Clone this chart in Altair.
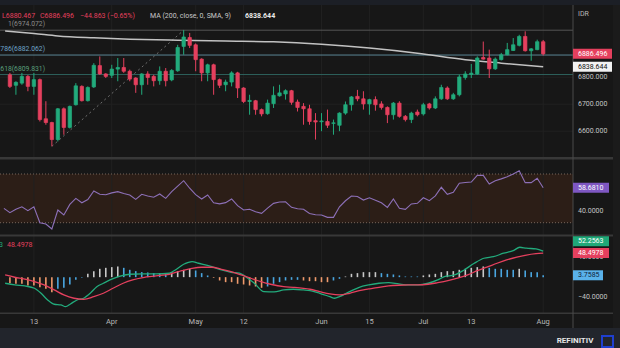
import altair as alt
import pandas as pd

W, H = 620, 348
BG = "#171717"
GREEN = "#22ab7c"
RED = "#e5405e"

# ---------------- data ----------------
opens = [6809, 6770, 6778, 6803, 6766, 6791, 6646, 6632, 6569, 6683,
         6614, 6698, 6766, 6713, 6764, 6843, 6812, 6807, 6830, 6836,
         6822, 6797, 6772, 6812, 6803, 6787, 6822, 6790, 6824, 6914,
         6947, 6920, 6867, 6816, 6846, 6791, 6772, 6782, 6816, 6760,
         6710, 6713, 6680, 6665, 6702, 6731, 6738, 6750, 6708, 6692,
         6683, 6639, 6635, 6636, 6629, 6622, 6667, 6698, 6729, 6720,
         6701, 6717, 6701, 6688, 6661, 6704, 6655, 6643, 6671, 6664,
         6701, 6686, 6720, 6760, 6720, 6735, 6799, 6810, 6812, 6873,
         6871, 6831, 6865, 6883, 6899, 6918, 6951, 6898, 6902, 6931.36]
highs = [6816, 6785, 6816, 6808, 6816, 6795, 6711, 6635, 6686, 6688,
         6695, 6778, 6770, 6766, 6852, 6877, 6815, 6846, 6871, 6871,
         6828, 6800, 6815, 6822, 6809, 6840, 6834, 6830, 6920, 6974.072,
         6964, 6925, 6870, 6850, 6850, 6795, 6791, 6822, 6820, 6763,
         6735, 6716, 6684, 6717, 6766, 6772, 6755, 6753, 6717, 6704,
         6698, 6667, 6667, 6680, 6643, 6670, 6710, 6730, 6753, 6748,
         6720, 6729, 6711, 6692, 6708, 6711, 6660, 6672, 6680, 6705,
         6705, 6729, 6772, 6766, 6742, 6809, 6822, 6849, 6877, 6932,
         6902, 6873, 6890, 6927, 6945, 6957, 6970, 6908, 6939, 6938]
lows = [6760, 6735, 6772, 6748, 6735, 6636, 6624, 6544, 6562, 6587,
        6610, 6695, 6710, 6710, 6760, 6809, 6797, 6797, 6785, 6816,
        6785, 6742, 6735, 6772, 6766, 6772, 6766, 6785, 6820, 6883,
        6908, 6822, 6785, 6785, 6735, 6760, 6748, 6766, 6723, 6704,
        6661, 6661, 6655, 6661, 6686, 6728, 6717, 6698, 6673, 6624,
        6624, 6569, 6600, 6612, 6587, 6600, 6661, 6676, 6711, 6680,
        6661, 6676, 6680, 6630, 6643, 6650, 6636, 6630, 6655, 6658,
        6680, 6682, 6716, 6716, 6716, 6729, 6791, 6797, 6809, 6865,
        6797, 6827, 6862, 6881, 6897, 6914, 6895, 6861, 6900, 6880.467]
closes = [6766, 6781, 6803, 6766, 6791, 6643, 6632, 6569, 6683, 6614,
          6692, 6768, 6713, 6762, 6844, 6812, 6803, 6830, 6836, 6822,
          6793, 6772, 6812, 6799, 6787, 6822, 6787, 6825, 6910, 6949,
          6918, 6865, 6816, 6846, 6791, 6770, 6782, 6816, 6760, 6710,
          6714, 6680, 6664, 6704, 6733, 6742, 6750, 6707, 6688, 6683,
          6636, 6634, 6638, 6622, 6631, 6667, 6698, 6727, 6720, 6701,
          6717, 6698, 6688, 6661, 6704, 6655, 6643, 6667, 6661, 6698,
          6686, 6720, 6762, 6720, 6735, 6801, 6812, 6815, 6871, 6867,
          6831, 6867, 6883, 6902, 6920, 6951, 6898, 6905, 6931.36, 6886.496]

ma_idx = [-0.8, 4, 8, 14, 20, 28, 36, 44, 52, 60, 68, 76, 82, 89]
ma_val = [6971, 6962, 6953, 6946, 6941, 6937, 6934, 6931, 6922, 6908,
          6889, 6865, 6852, 6838.644]

fib_names = ["1", "0.786", "0.618"]
fib_levels = [6974.072, 6882.062, 6809.831]
fib_line_colors = ["#555555", "#5a8594", "#2e625c"]
fib_text_colors = ["#8a8a8a", "#6ea4c9", "#5aa07c"]
fib_trend_idx = [7, 29]
fib_trend_val = [6544.0, 6974.072]

rsi_start = 41.8
rsi = [38.2, 41.0, 43.1, 39.9, 43.1, 30.0, 28.9, 24.8, 40.4, 36.3,
       45.0, 50.0, 46.4, 49.0, 56.0, 53.3, 53.0, 54.5, 55.5, 54.0,
       52.8, 49.2, 53.3, 52.0, 50.9, 53.6, 50.0, 55.5, 60.0, 64.5,
       58.3, 53.0, 49.5, 52.8, 46.4, 45.5, 46.5, 49.5, 44.0, 40.4,
       41.0, 39.0, 37.7, 42.0, 45.9, 47.0, 47.2, 42.6, 41.5, 41.0,
       37.6, 36.5, 36.3, 34.4, 34.4, 43.1, 48.0, 51.9, 51.5, 48.6,
       50.5, 48.5, 46.4, 42.6, 49.5, 41.8, 41.0, 45.4, 45.9, 50.5,
       48.1, 52.0, 59.1, 53.3, 55.0, 62.4, 63.0, 63.4, 68.9, 68.9,
       61.8, 64.5, 66.0, 67.8, 70.0, 72.7, 62.9, 62.9, 66.5, 58.681]

macd_idx = [-0.8, 0.8, 2.5, 4.1, 5.2, 6.3, 7.4, 8.5, 9.3, 10.1, 11.2, 12.3, 13.4,
            14.5, 15.6, 16.7, 18.1, 20, 22.2, 24.4, 26.6, 27.6, 29, 30.4, 31.5,
            32.6, 33.7, 35.3, 36.9, 38.3, 39.7, 40.8, 42.4, 44.1, 45.7, 47.3, 49,
            50.1, 51.7, 53.4, 54.2, 55, 56.7, 58.3, 59.9, 61.6, 63.2, 64.9, 66.5,
            68.1, 69.8, 71.4, 72.5, 74.2, 75.8, 77.5, 79.1, 80.7, 82.4, 84, 85.1,
            86.2, 87.8, 89]
macd_val = [-12.3, -15.7, -17.7, -22.4, -32.5, -46.0, -54.6, -55.9, -59.5, -54.0,
            -46.0, -42.5, -32.5, -19.2, -12.3, -5.6, 1.0, 5.8, 6.5, 6.5, 7.9, 14.5,
            26.0, 31.3, 28.0, 24.6, 21.2, 14.5, 9.9, 7.9, -2.2, -12.3, -29.2, -29.8,
            -25.8, -24.4, -25.8, -27.2, -32.5, -39.3, -42.5, -39.3, -29.2, -20.4,
            -15.7, -12.3, -11.1, -13.7, -15.7, -15.7, -12.3, -5.6, 1.0, 4.4, 14.5,
            28.0, 38.1, 41.3, 48.2, 53.4, 60.3, 58.3, 56.9, 52.2563]
sig_idx = [-0.8, 0.8, 2.5, 4.1, 5.7, 7.4, 9, 10.7, 12.3, 14, 15.6, 17.2, 18.9,
           20.5, 22.2, 24.4, 26.6, 28.7, 30.4, 32, 33.7, 35.3, 36.9, 38.6, 40.2,
           41.9, 43.5, 45.7, 47.3, 50.1, 51.7, 53.4, 55, 56.7, 58.3, 59.9, 61.6,
           63.2, 64.9, 66.5, 68.1, 69.8, 71.4, 73.1, 74.7, 76.4, 78, 79.6, 81.3,
           82.9, 84.6, 86.2, 87.8, 89]
sig_val = [4.4, -0.2, -4.2, -9.1, -15.7, -25.8, -35.9, -42.5, -44.6, -39.3,
           -32.5, -22.4, -12.3, -5.6, -1.0, 2.4, 5.8, 13.1, 17.9, 20.0,
           20.0, 15.9, 11.1, 4.4, -2.2, -9.1, -14.3, -19.2, -20.4, -24.4,
           -29.2, -33.9, -35.9, -32.5, -27.2, -23.8, -20.4, -17.7, -16.3, -15.7,
           -15.7, -14.3, -11.1, -7.1, -2.2, 4.4, 13.1, 20.0, 28.0, 34.7,
           40.5, 44.5, 47.2, 48.4978]
hist = [-12.1, -13.4, -13.4, -16.8, -16.8, -20.2, -23.5, -30.2, -23.5, -21.5,
        -14.8, -5.4, -1.3, 6.7, 12.1, 16.8, 18.8, 20.2, 21.5, 18.8,
        14.8, 12.1, 10.1, 9.4, 8.1, 8.1, 8.1, 10.1, 12.1, 14.8,
        16.8, 13.4, 8.1, 3.4, -1.3, -6.7, -10.1, -10.1, -13.4, -14.8,
        -16.8, -18.8, -21.5, -18.8, -13.4, -10.1, -6.7, -5.4, -5.4, -6.7,
        -8.1, -8.1, -10.1, -10.1, -6.7, -3.4, 1.3, 6.7, 8.1, 10.1,
        10.1, 10.1, 8.1, 6.7, 5.4, 3.4, 1.3, 1.3, 1.3, 3.4,
        5.4, 6.7, 10.1, 12.1, 12.1, 14.8, 16.8, 18.8, 20.2, 21.5,
        18.8, 16.8, 16.8, 14.8, 14.8, 16.8, 13.4, 10.1, 10.1, 3.7585]

date_labels = ["13", "Apr", "May", "12", "Jun", "15", "Jul", "13", "Aug"]
date_idx = [4, 17, 31, 39, 52, 60, 69, 77, 89]
price_ticks = [6800, 6700, 6600]
rsi_ticks = [40]
macd_ticks = [40, -40]

# ---------------- scales ----------------
def pix_dom(v0, y0, v1, y1):
    s = (y1 - y0) / (v1 - v0)
    return [v0 + (H - y0) / s, v0 - y0 / s]

PD = pix_dom(6800, 77.2, 6600, 131.2)
RD = pix_dom(70, 174.0, 30, 222.7)
MD = pix_dom(40, 257.3, -40, 297.0)
XS = alt.Scale(domain=[-5 / 6.09, 615 / 6.09], nice=False, zero=False)
AX = 573  # price axis x


def xq(f):
    return alt.X(f"{f}:Q", scale=XS, axis=None)


def yq(f, d):
    return alt.Y(f"{f}:Q", scale=alt.Scale(domain=d, nice=False, zero=False), axis=None)


ONE = pd.DataFrame({"k": [0]})
FONT = "Roboto"


def box(x1, x2, y1, y2, fill, **kw):
    return alt.Chart(ONE).mark_rect(color=fill, **kw).encode(
        x=alt.value(x1), x2=alt.value(x2), y=alt.value(y1), y2=alt.value(y2))


def txt(s, x, y, color, size=7, align="left", weight="normal"):
    return alt.Chart(ONE).mark_text(text=s, color=color, fontSize=size, align=align,
                                    baseline="middle", fontWeight=weight, font=FONT).encode(
        x=alt.value(x), y=alt.value(y))


def tag(value, dom, fill, tcolor, x2=609, dy=0):
    d = pd.DataFrame({"v": [value], "s": [f"{value:.4f}" if dom is not PD else f"{value:.3f}"]})
    r = alt.Chart(d).mark_rule(color=fill, strokeWidth=10, yOffset=dy).encode(
        x=alt.value(AX), x2=alt.value(x2), y=yq("v", dom))
    t = alt.Chart(d).mark_text(color=tcolor, fontSize=7, align="left", baseline="middle",
                               dy=dy, font=FONT).encode(
        x=alt.value(AX + 5), y=yq("v", dom), text="s:N")
    return [r, t]


layers = []

# frames
layers.append(box(0, W, 0, 5, "#1c1f26"))
layers.append(box(0, W, 328, H, "#22252c"))
layers.append(box(613, W, 5, 328, "#1b1b1b"))

# RSI band
band = pd.DataFrame({"lo": [30], "hi": [70]})
layers.append(alt.Chart(band).mark_rect(color="#2c1e17").encode(
    x=alt.value(0), x2=alt.value(AX), y=yq("lo", RD), y2="hi:Q"))

# grid
gd = pd.DataFrame({"i": date_idx, "lab": date_labels})
layers.append(alt.Chart(gd).mark_rule(color="#212121", strokeWidth=1).encode(
    x=xq("i"), y=alt.value(5), y2=alt.value(313)))
pt = pd.DataFrame({"p": price_ticks, "s": [f"{p:.3f}" for p in price_ticks]})
layers.append(alt.Chart(pt).mark_rule(color="#212121", strokeWidth=1).encode(
    x=alt.value(0), x2=alt.value(AX), y=yq("p", PD)))

# RSI dotted bounds
layers.append(alt.Chart(band).mark_rule(color="#76665c", strokeDash=[1, 2]).encode(
    x=alt.value(0), x2=alt.value(AX), y=yq("lo", RD)))
layers.append(alt.Chart(band).mark_rule(color="#76665c", strokeDash=[1, 2]).encode(
    x=alt.value(0), x2=alt.value(AX), y=yq("hi", RD)))

# fib levels
fib = pd.DataFrame({"v": fib_levels, "lc": fib_line_colors, "tc": fib_text_colors,
                    "s": [f"{n}({v:.3f})" for n, v in zip(fib_names, fib_levels)]})
layers.append(alt.Chart(fib).mark_rule(strokeWidth=1).encode(
    x=alt.value(0), x2=alt.value(AX), y=yq("v", PD), color=alt.Color("lc:N", scale=None)))
layers.append(alt.Chart(fib).mark_text(fontSize=6.8, align="right", baseline="middle", dy=-6,
                                       font=FONT).encode(
    x=alt.value(45), y=yq("v", PD), text="s:N", color=alt.Color("tc:N", scale=None)))
tr = pd.DataFrame({"i": fib_trend_idx, "v": fib_trend_val})
layers.append(alt.Chart(tr).mark_line(color="#707070", strokeDash=[2, 3], strokeWidth=1).encode(
    x=xq("i"), y=yq("v", PD)))

# MA 200
ma = pd.DataFrame({"i": ma_idx, "v": ma_val})
layers.append(alt.Chart(ma).mark_line(color="#c2c2c2", strokeWidth=1.5, interpolate="monotone",
                                      clip=True).encode(x=xq("i"), y=yq("v", PD)))

# candles
cd = pd.DataFrame({"i": list(range(len(opens))), "o": opens, "h": highs, "l": lows, "c": closes})
cd["col"] = [GREEN if c >= o else RED for o, c in zip(opens, closes)]
layers.append(alt.Chart(cd).mark_rule(strokeWidth=1).encode(
    x=xq("i"), y=yq("l", PD), y2="h:Q", color=alt.Color("col:N", scale=None)))
layers.append(alt.Chart(cd).mark_bar(size=3.4, strokeWidth=0.7).encode(
    x=xq("i"), y=yq("o", PD), y2="c:Q", color=alt.Color("col:N", scale=None),
    stroke=alt.Stroke("col:N", scale=None)))

# RSI
rd = pd.DataFrame({"i": [-1] + list(range(len(rsi))), "v": [rsi_start] + rsi})
layers.append(alt.Chart(rd).mark_line(color="#8d70b8", strokeWidth=1.1, clip=True).encode(
    x=xq("i"), y=yq("v", RD)))

# MACD histogram
hcol = []
prev = None
for h in hist:
    if prev is None:
        c = "#ef9a6c" if h < 0 else "#c8c8c8"
    elif h >= 0:
        c = "#c8c8c8" if h > prev else ("#4aa6e0" if h < prev else hcol[-1])
    else:
        c = "#ef9a6c" if h < prev else ("#4aa6e0" if h > prev else hcol[-1])
    hcol.append(c)
    prev = h
hd = pd.DataFrame({"i": list(range(len(hist))), "h": hist, "z": [0] * len(hist), "col": hcol})
layers.append(alt.Chart(hd).mark_rule(strokeWidth=1.6).encode(
    x=xq("i"), y=yq("z", MD), y2="h:Q", color=alt.Color("col:N", scale=None)))
md = pd.DataFrame({"i": macd_idx, "v": macd_val})
layers.append(alt.Chart(md).mark_line(color="#22ab7c", strokeWidth=1.3, interpolate="monotone",
                                      clip=True).encode(x=xq("i"), y=yq("v", MD)))
sd = pd.DataFrame({"i": sig_idx, "v": sig_val})
layers.append(alt.Chart(sd).mark_line(color="#e5405e", strokeWidth=1.3, interpolate="monotone",
                                      clip=True).encode(x=xq("i"), y=yq("v", MD)))

# separators
layers.append(box(0, 613, 157, 159.5, "#383838"))
layers.append(box(0, 613, 234.5, 236.5, "#383838"))
layers.append(box(0, 613, 312.5, 314, "#383838"))
layers.append(box(AX - 0.5, AX + 0.5, 5, 328, "#4a4a4a"))

# axis labels
layers.append(alt.Chart(pt).mark_text(color="#c4c4c4", fontSize=7, align="left", baseline="middle",
                                      font=FONT).encode(x=alt.value(AX + 5), y=yq("p", PD), text="s:N"))
rt = pd.DataFrame({"v": rsi_ticks, "s": [f"{v:.4f}" for v in rsi_ticks]})
layers.append(alt.Chart(rt).mark_text(color="#c4c4c4", fontSize=7, align="left", baseline="middle",
                                      font=FONT).encode(x=alt.value(AX + 5), y=yq("v", RD), text="s:N"))
mt = pd.DataFrame({"v": macd_ticks, "s": [f"{v:.4f}".replace("-", "\u2212") for v in macd_ticks]})
layers.append(alt.Chart(mt).mark_text(color="#c4c4c4", fontSize=7, align="left", baseline="middle",
                                      font=FONT).encode(x=alt.value(AX + 5), y=yq("v", MD), text="s:N"))
layers.append(alt.Chart(gd).mark_text(color="#b8b8b8", fontSize=7.5, align="center", baseline="middle",
                                      font=FONT).encode(x=xq("i"), y=alt.value(322), text="lab:N"))

# tags
layers += tag(closes[-1], PD, RED, "#ffffff", x2=612)
layers += tag(ma_val[-1], PD, "#f2f2f2", "#111111", x2=612)
layers += tag(rsi[-1], RD, "#7e57c2", "#ffffff")
layers += tag(sig_val[-1], MD, RED, "#ffffff")
layers += tag(macd_val[-1], MD, "#1fa878", "#ffffff", dy=-10)
layers += tag(hist[-1], MD, "#5ab2ea", "#10243a", x2=603)

# header texts
layers.append(txt("L6880.467", 2, 15.5, RED))
layers.append(txt("C6886.496", 40, 15.5, RED))
layers.append(txt("\u221244.863 (\u22120.65%)", 80, 15.5, RED))
layers.append(txt("MA (200, close, 0, SMA, 9)", 150, 15.5, "#c8c8c8"))
layers.append(txt("6838.644", 245, 15.5, "#e8e8e8", weight="bold"))
layers.append(txt("IDR", 578, 13.5, "#b8b8b8"))
layers.append(txt("52.2563", 3, 245, GREEN, align="right"))
layers.append(txt("48.4978", 7, 245, RED))

# footer
layers.append(txt("REFINITIV", 575, 340.5, "#e6e6e6", size=8, align="center", weight="bold"))
layers.append(alt.Chart(ONE).mark_rect(fill="#22252c", stroke="#1f3fd0", strokeWidth=2).encode(
    x=alt.value(602), x2=alt.value(613), y=alt.value(336), y2=alt.value(347)))

chart = alt.layer(*layers).resolve_scale(y="independent").properties(
    width=W, height=H, autosize=alt.AutoSizeParams(type="none"), padding=0, background=BG
).configure_view(stroke=None)

chart.save("out.html", embed_options={"renderer": "svg", "actions": False})
